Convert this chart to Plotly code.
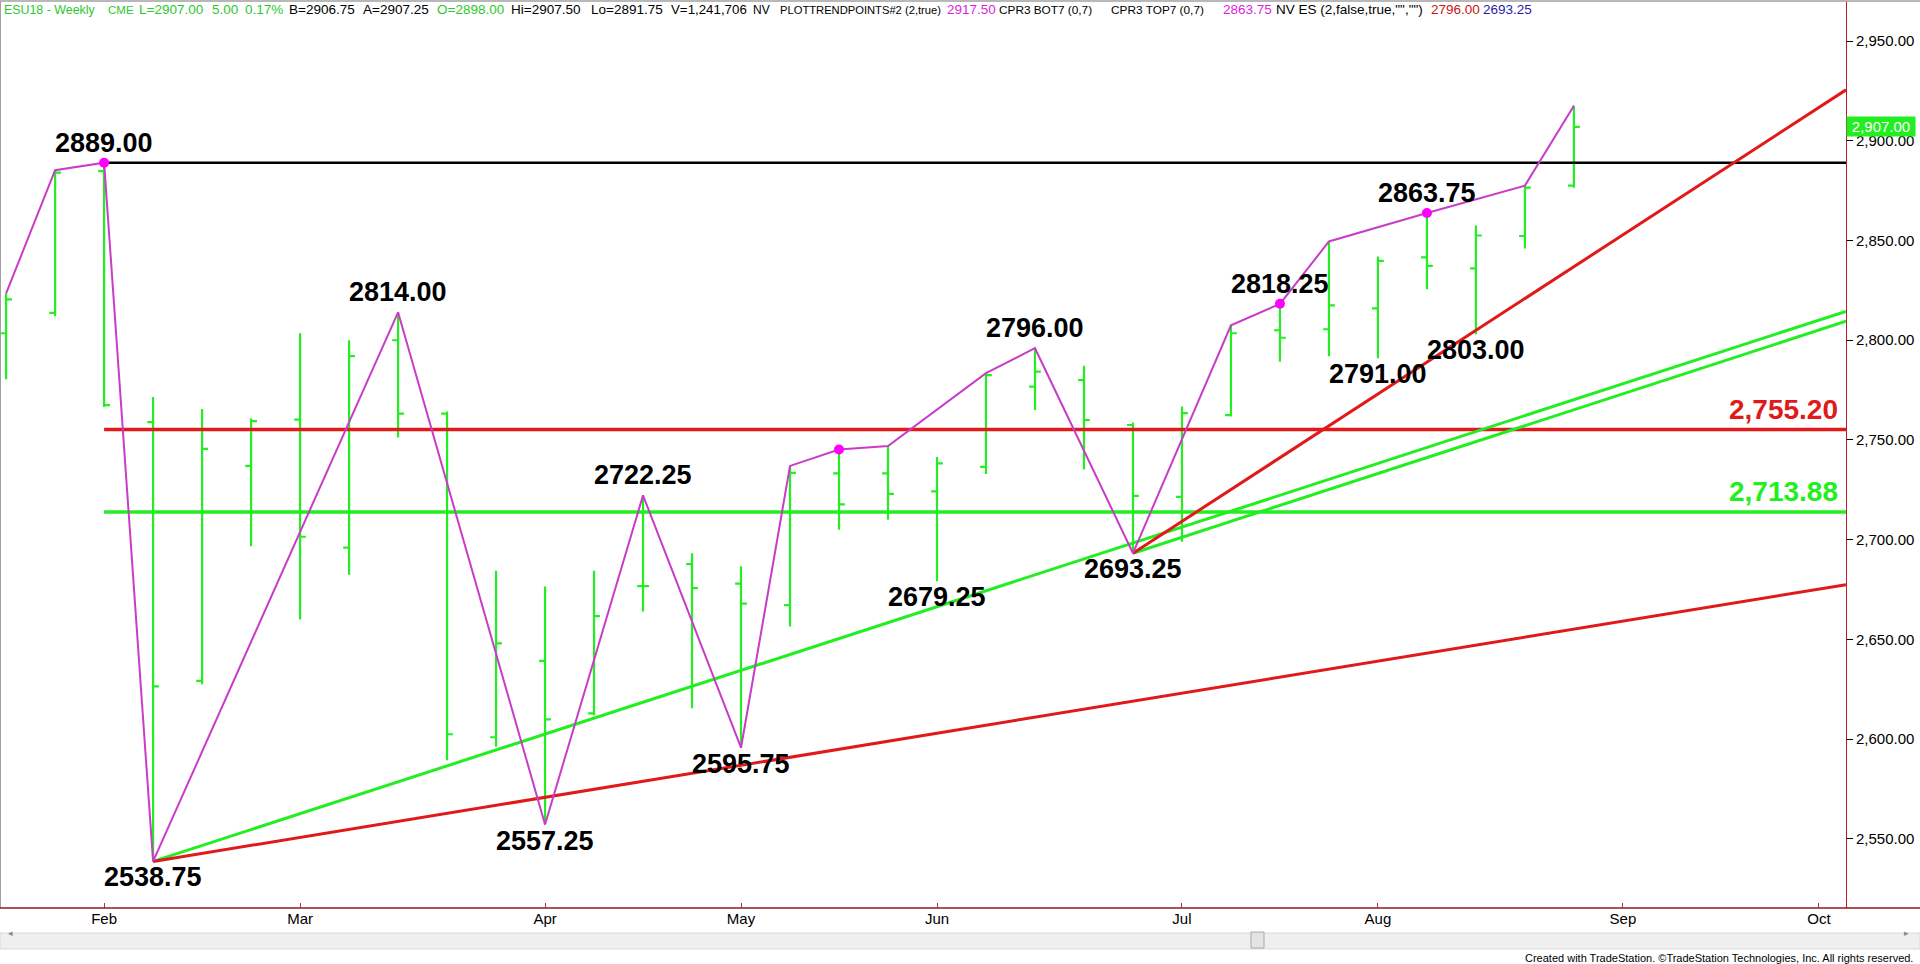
import plotly.graph_objects as go

# ---------------- data ----------------
dates = ["2018-01-19", "2018-01-26", "2018-02-02", "2018-02-09", "2018-02-16", "2018-02-23",
         "2018-03-02", "2018-03-09", "2018-03-16", "2018-03-23", "2018-03-30", "2018-04-06",
         "2018-04-13", "2018-04-20", "2018-04-27", "2018-05-04", "2018-05-11", "2018-05-18",
         "2018-05-25", "2018-06-01", "2018-06-08", "2018-06-15", "2018-06-22", "2018-06-29",
         "2018-07-06", "2018-07-13", "2018-07-20", "2018-07-27", "2018-08-03", "2018-08-10",
         "2018-08-17", "2018-08-24", "2018-08-31"]
opens = [2803.50, 2813.75, 2884.75, 2759.00, 2629.25, 2737.00, 2760.25, 2696.00, 2800.00, 2763.25,
         2601.00, 2639.25, 2613.00, 2676.75, 2687.75, 2678.00, 2667.25, 2733.25, 2733.25, 2724.25,
         2736.50, 2776.75, 2780.00, 2757.50, 2721.50, 2762.50, 2805.00, 2805.50, 2816.00, 2841.50,
         2836.00, 2852.25, 2877.50]
highs = [2823.50, 2885.25, 2889.00, 2771.50, 2765.50, 2760.75, 2803.50, 2800.00, 2814.00, 2764.25,
         2684.50, 2676.50, 2684.50, 2722.25, 2693.25, 2686.75, 2737.00, 2745.25, 2747.00, 2741.50,
         2783.50, 2796.00, 2787.25, 2758.75, 2766.75, 2807.50, 2818.25, 2849.50, 2842.00, 2863.75,
         2857.50, 2877.50, 2917.50]
lows = [2780.50, 2812.00, 2766.50, 2538.75, 2627.50, 2696.75, 2660.00, 2682.50, 2751.25, 2589.50,
        2596.25, 2557.25, 2612.00, 2664.00, 2615.50, 2595.75, 2656.50, 2705.00, 2710.00, 2679.25,
        2733.00, 2765.00, 2735.25, 2693.25, 2699.00, 2761.75, 2789.25, 2792.00, 2791.00, 2825.50,
        2803.00, 2846.00, 2876.50]
closes = [2820.50, 2884.00, 2767.50, 2626.50, 2745.50, 2759.50, 2701.50, 2792.00, 2763.25, 2602.50,
          2648.00, 2610.00, 2661.75, 2676.75, 2675.75, 2668.00, 2733.50, 2717.75, 2723.00, 2738.25,
          2782.50, 2784.25, 2760.00, 2722.00, 2763.50, 2803.50, 2801.25, 2817.50, 2839.75, 2837.25,
          2852.50, 2876.50, 2907.00]

# trend points (zigzag) : bar index and H/L
pivot_idx = [0, 1, 2, 3, 8, 11, 13, 15, 16, 17, 18, 20, 21, 23, 25, 26, 27, 29, 31, 32]
pivot_kind = ["H", "H", "H", "L", "H", "L", "H", "L", "H", "H", "H", "H", "H", "L", "H", "H", "H", "H", "H", "H"]
dot_idx = [2, 17, 26, 29]

# swing labels
label_idx = [2, 3, 8, 11, 13, 15, 19, 21, 23, 26, 28, 29, 30]
label_vals = [2889.00, 2538.75, 2814.00, 2557.25, 2722.25, 2595.75, 2679.25, 2796.00, 2693.25,
              2818.25, 2791.00, 2863.75, 2803.00]
label_pos = ["above", "below", "above", "below", "above", "below", "below", "above", "below",
             "above", "below", "above", "below"]

# horizontal levels
level_start = "2018-02-02"
level_vals = [2889.00, 2755.20, 2713.88]
level_texts = [None, "2,755.20", "2,713.88"]

# trend lines (start anchor -> value at right edge of chart)
x_end = "2018-10-08 21:00"
trend_start = ["2018-02-09", "2018-06-29", "2018-06-29", "2018-02-09"]
trend_start_vals = [2538.75, 2693.25, 2693.25, 2538.75]
trend_end_vals = [2814.5, 2809.5, 2925.5, 2677.5]

month_ticks = ["2018-02-02", "2018-03-02", "2018-04-06", "2018-05-04", "2018-06-01",
               "2018-07-06", "2018-08-03", "2018-09-07", "2018-10-05"]
month_names = ["Feb", "Mar", "Apr", "May", "Jun", "Jul", "Aug", "Sep", "Oct"]
price_ticks = [2550, 2600, 2650, 2700, 2750, 2800, 2850, 2900, 2950]
last_price = 2907.00

header_text = ["ESU18 - Weekly", "CME", "L=2907.00", "5.00", "0.17%", "B=2906.75", "A=2907.25",
               "O=2898.00", "Hi=2907.50", "Lo=2891.75", "V=1,241,706", "NV",
               "PLOTTRENDPOINTS#2 (2,true)", "2917.50", "CPR3 BOT7 (0,7)", "CPR3 TOP7 (0,7)",
               "2863.75", "NV ES (2,false,true,\"\",\"\")", "2796.00", "2693.25"]
footer = "Created with TradeStation. \u00a9TradeStation Technologies, Inc. All rights reserved."

# ---------------- styling ----------------
G, K, M, R, B = "#2DC82D", "#000000", "#E01EE0", "#C81414", "#1E1EAA"
header_x_px = [3, 107, 138, 211, 244, 288, 362, 436, 510, 590, 670, 752,
               779, 946, 998, 1110, 1222, 1275, 1430, 1482]
header_colors = [G, G, G, G, G, K, K, G, K, K, K, K, K, M, K, K, M, K, R, B]
header_sizes = [12.4, 11.5, 13.5, 13.5, 13.5, 13.5, 13.5, 13.5, 13.5, 13.5, 13.3, 12,
                11.2, 13.5, 11.8, 11.8, 13.5, 13.5, 13.5, 13.5]
level_colors = ["#000000", "#E01A1A", "#22EE22"]
level_widths = [2.5, 3.5, 3.5]
trend_colors = ["#22EE22", "#22EE22", "#E01A1A", "#E01A1A"]

BAR_GREEN = "#22EE22"
ARIAL = "Liberation Sans, Arial, sans-serif"
W, H = 1920, 964
ML, MR, MT, MB = 0, 74, 1, 56
plot_w = W - ML - MR
plot_h = H - MT - MB

fig = go.Figure()

fig.add_trace(go.Ohlc(
    x=dates, open=opens, high=highs, low=lows, close=closes,
    increasing=dict(line=dict(color=BAR_GREEN, width=2.2)),
    decreasing=dict(line=dict(color=BAR_GREEN, width=2.2)),
    tickwidth=0.12, hoverinfo="skip", showlegend=False))

for v, c, w in zip(level_vals, level_colors, level_widths):
    fig.add_trace(go.Scatter(x=[level_start, x_end], y=[v, v], mode="lines",
                             line=dict(color=c, width=w), hoverinfo="skip", showlegend=False))

for xs, ys, ye, c in zip(trend_start, trend_start_vals, trend_end_vals, trend_colors):
    fig.add_trace(go.Scatter(x=[xs, x_end], y=[ys, ye], mode="lines",
                             line=dict(color=c, width=3), hoverinfo="skip", showlegend=False))

zz_x = [dates[i] for i in pivot_idx]
zz_y = [highs[i] if k == "H" else lows[i] for i, k in zip(pivot_idx, pivot_kind)]
fig.add_trace(go.Scatter(x=zz_x, y=zz_y, mode="lines", line=dict(color="#C83CC8", width=2),
                         hoverinfo="skip", showlegend=False))
fig.add_trace(go.Scatter(x=[dates[i] for i in dot_idx], y=[highs[i] for i in dot_idx],
                         mode="markers", marker=dict(color="#FF00FF", size=10),
                         hoverinfo="skip", showlegend=False))

annotations = []
for i, v, p in zip(label_idx, label_vals, label_pos):
    annotations.append(dict(
        x=dates[i], y=v, xref="x", yref="y", text=f"{v:.2f}", showarrow=False,
        xanchor="center", yanchor="bottom" if p == "above" else "top",
        yshift=3 if p == "above" else 1,
        font=dict(family=ARIAL, size=27, color="#000000", weight="bold")))

for v, c, t in zip(level_vals, level_colors, level_texts):
    if t:
        annotations.append(dict(
            x=(plot_w - 6) / plot_w, y=v, xref="paper", yref="y", text=f"<b>{t}</b>",
            showarrow=False, xanchor="right", yanchor="bottom", yshift=3,
            font=dict(family=ARIAL, size=28, color=c)))

# last price marker
annotations.append(dict(
    x=1, y=last_price, xref="paper", yref="y", text=f"{last_price:,.2f}", showarrow=False,
    xanchor="left", yanchor="middle", bgcolor=BAR_GREEN, borderpad=1, width=66,
    font=dict(family=ARIAL, size=15, color="#FFFFFF")))


def py(ypx):
    return (plot_h - (ypx - MT)) / plot_h


for t, xp, c, s in zip(header_text, header_x_px, header_colors, header_sizes):
    annotations.append(dict(
        x=(xp - ML) / plot_w, y=py(9.5), xref="paper", yref="paper",
        text=t.replace(" ", "\u00a0"), showarrow=False, xanchor="left", yanchor="middle",
        borderpad=0, font=dict(family=ARIAL, size=s, color=c)))

annotations.append(dict(
    x=(1915 - ML) / plot_w, y=py(958), xref="paper", yref="paper",
    text=footer, showarrow=False, xanchor="right", yanchor="middle",
    font=dict(family=ARIAL, size=11, color="#000000")))

# frame, scrollbar
xr = (W - ML) / plot_w
shapes = [
    dict(type="line", xref="paper", yref="paper", x0=0, x1=xr, y0=1, y1=1,
         line=dict(color="#A0A0A0", width=1.5)),
    dict(type="line", xref="paper", yref="paper", x0=0, x1=0, y0=0, y1=1,
         line=dict(color="#A0A0A0", width=2)),
    dict(type="rect", xref="paper", yref="paper", x0=0, x1=xr, y0=py(949), y1=py(933),
         fillcolor="#EFEFEF", line=dict(color="#DADADA", width=1)),
    dict(type="rect", xref="paper", yref="paper", x0=1251 / plot_w, x1=1264 / plot_w,
         y0=py(948), y1=py(932), fillcolor="#E4E4E4", line=dict(color="#A8A8A8", width=1)),
    dict(type="line", xref="paper", yref="paper", x0=0, x1=xr, y0=0, y1=0,
         line=dict(color="#8B1A1A", width=1.5)),
]
annotations.append(dict(x=6 / plot_w, y=py(941), xref="paper", yref="paper", text="\u25c2",
                        showarrow=False, font=dict(size=9, color="#888888")))
annotations.append(dict(x=1911 / plot_w, y=py(941), xref="paper", yref="paper", text="\u25b8",
                        showarrow=False, font=dict(size=9, color="#888888")))

fig.update_layout(
    width=W, height=H, margin=dict(l=ML, r=MR, t=MT, b=MB, pad=0),
    paper_bgcolor="#FFFFFF", plot_bgcolor="#FFFFFF", showlegend=False,
    annotations=annotations, shapes=shapes,
    xaxis=dict(type="date", range=["2018-01-18 03:00", x_end], tickmode="array",
               tickvals=month_ticks, ticktext=month_names, ticks="inside", ticklen=5,
               tickcolor="#C03030", showgrid=False, zeroline=False, showline=False,
               rangeslider=dict(visible=False), fixedrange=True,
               tickfont=dict(family=ARIAL, size=15, color="#000000")),
    yaxis=dict(side="right", range=[2515.4, 2970.05], tickmode="array", tickvals=price_ticks,
               ticktext=[f"{v:,.2f}" for v in price_ticks], ticks="outside", ticklen=6,
               tickcolor="#000000", showgrid=False, zeroline=False, showline=True,
               linecolor="#B22222", linewidth=1, fixedrange=True,
               tickfont=dict(family=ARIAL, size=15, color="#000000")),
)

fig.write_html("out.html", config={"displayModeBar": False, "staticPlot": True},
               post_script="document.body.style.margin='0';document.body.style.overflow='hidden';")
